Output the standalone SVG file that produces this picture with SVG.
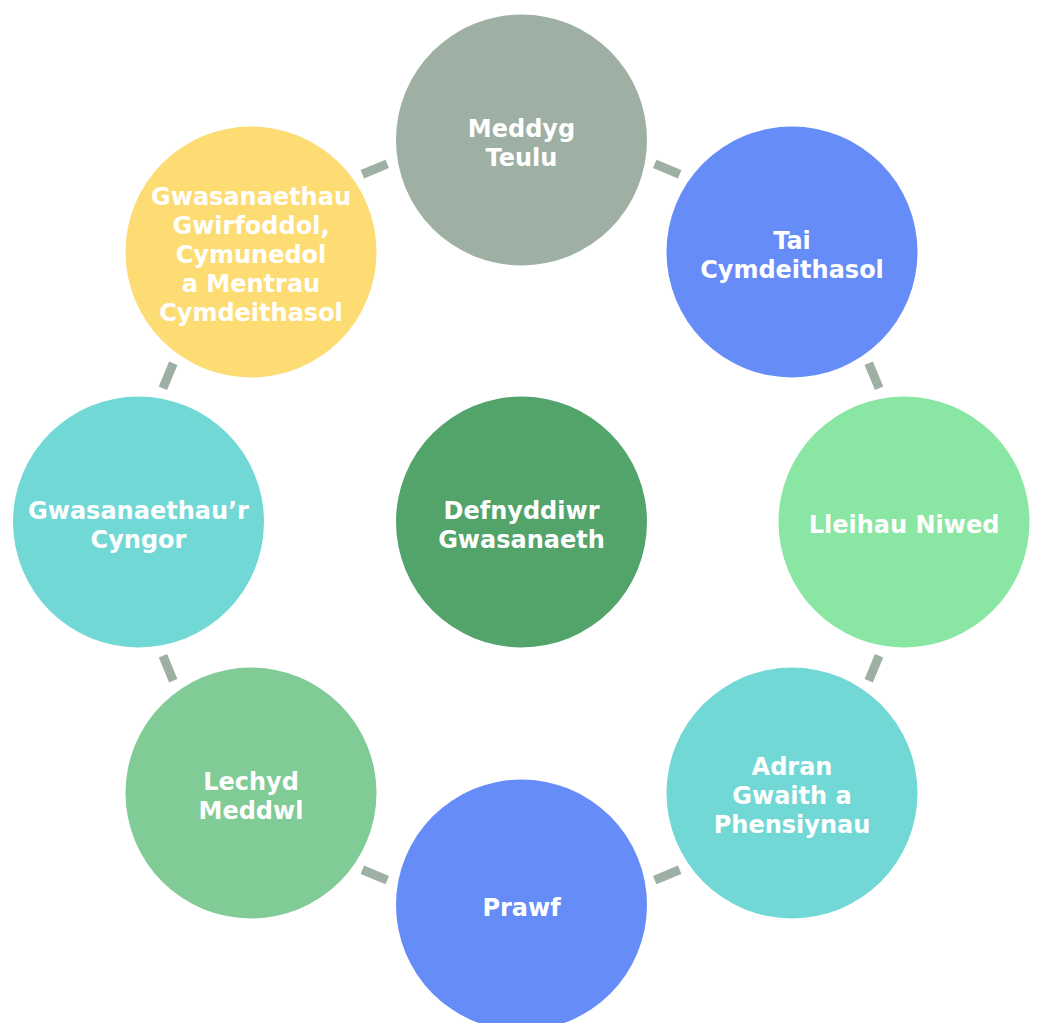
<svg xmlns="http://www.w3.org/2000/svg" width="1037" height="1023" viewBox="0 0 1037 1023">
<style>
.t{font-family:"DejaVu Sans","Open Sans",sans-serif;font-weight:700;font-size:24px;fill:#ffffff;text-anchor:middle}
.d{fill:#9eafa3}
</style>
<defs><rect id="dash" x="-13.5" y="-4.5" width="27" height="9"/></defs>
<rect width="1037" height="1023" fill="#ffffff"/>
<g id="connectors" class="d">
<use href="#dash" transform="translate(374.8,169.1) rotate(-22.5)"/>
<use href="#dash" transform="translate(667.2,169.1) rotate(22.5)"/>
<use href="#dash" transform="translate(873.9,375.8) rotate(67.5)"/>
<use href="#dash" transform="translate(873.9,668.2) rotate(112.5)"/>
<use href="#dash" transform="translate(667.2,874.9) rotate(157.5)"/>
<use href="#dash" transform="translate(374.8,874.9) rotate(202.5)"/>
<use href="#dash" transform="translate(168.1,668.2) rotate(247.5)"/>
<use href="#dash" transform="translate(168.1,375.8) rotate(292.5)"/>
</g>
<g id="center">
<circle cx="521.5" cy="522" r="125.5" fill="#52a46a"/>
<text class="t" x="521.5" y="519"><tspan x="521.5">Defnyddiwr</tspan><tspan x="521.5" dy="29">Gwasanaeth</tspan></text>
</g>
<g id="meddyg">
<circle cx="521.5" cy="140" r="125.5" fill="#9eafa3"/>
<text class="t" x="521.5" y="137"><tspan x="521.5">Meddyg</tspan><tspan x="521.5" dy="29">Teulu</tspan></text>
</g>
<g id="tai">
<circle cx="792" cy="252" r="125.5" fill="#668cf8"/>
<text class="t" x="792" y="249"><tspan x="792">Tai</tspan><tspan x="792" dy="29">Cymdeithasol</tspan></text>
</g>
<g id="lleihau">
<circle cx="904" cy="522" r="125.5" fill="#8ae6a3"/>
<text class="t" x="904" y="533">Lleihau Niwed</text>
</g>
<g id="adran">
<circle cx="792" cy="793" r="125.5" fill="#72d8d6"/>
<text class="t" x="792" y="775"><tspan x="792">Adran</tspan><tspan x="792" dy="29">Gwaith a</tspan><tspan x="792" dy="29">Phensiynau</tspan></text>
</g>
<g id="prawf">
<circle cx="521.5" cy="905" r="125.5" fill="#668cf8"/>
<text class="t" x="521.5" y="916">Prawf</text>
</g>
<g id="lechyd">
<circle cx="251" cy="793" r="125.5" fill="#80cb96"/>
<text class="t" x="251" y="790"><tspan x="251">Lechyd</tspan><tspan x="251" dy="29">Meddwl</tspan></text>
</g>
<g id="cyngor">
<circle cx="138.5" cy="522" r="125.5" fill="#72d8d6"/>
<text class="t" x="138.5" y="519"><tspan x="138.5">Gwasanaethau’r</tspan><tspan x="138.5" dy="29">Cyngor</tspan></text>
</g>
<g id="gwirfoddol">
<circle cx="251" cy="252" r="125.5" fill="#fddc74"/>
<text class="t" x="251" y="205"><tspan x="251">Gwasanaethau</tspan><tspan x="251" dy="29">Gwirfoddol,</tspan><tspan x="251" dy="29">Cymunedol</tspan><tspan x="251" dy="29">a Mentrau</tspan><tspan x="251" dy="29">Cymdeithasol</tspan></text>
</g>
</svg>
